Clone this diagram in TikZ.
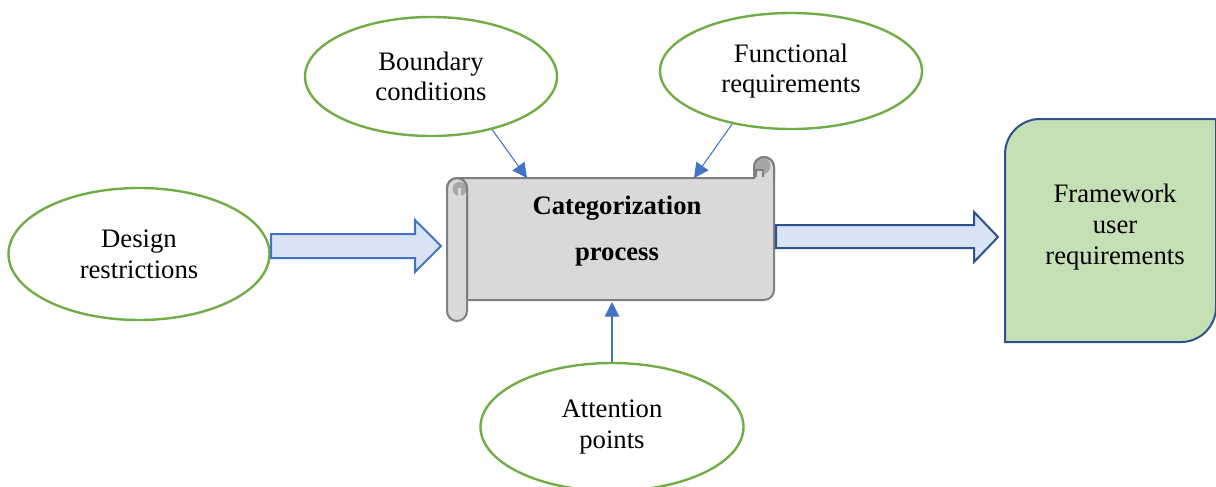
\documentclass[tikz,border=0pt]{standalone}
\usepackage{fontspec}
\setmainfont{Liberation Serif}
\usetikzlibrary{shapes.geometric,arrows.meta}
\definecolor{egreen}{HTML}{70AD47}
\definecolor{ablue}{HTML}{4472C4}
\definecolor{dblue}{HTML}{2F528F}
\definecolor{lblue}{HTML}{DAE3F3}
\definecolor{bgreen}{HTML}{C5E0B4}
\definecolor{sgray}{HTML}{D9D9D9}
\definecolor{sdark}{HTML}{A6A6A6}
\definecolor{sline}{HTML}{7F7F7F}
\tikzset{
  oval/.style={ellipse, draw=egreen, line width=1.8pt, fill=white, align=center,
    font=\fontsize{20}{23}\selectfont, inner sep=0pt},
  inarr/.style={draw=ablue, line width=0.8pt, -{Triangle[length=11pt,width=11pt]}},
  blockarr/.style={fill=lblue, line width=1.5pt, line join=miter},
  scrollpart/.style={draw=sline, line width=1.5pt, fill=sgray},
  lbl/.style={align=center, inner sep=0pt}
}
\begin{document}
\begin{tikzpicture}[x=0.75pt,y=-0.75pt]
\useasboundingbox (0,0) rectangle (1216,486);

% ellipses
\node[oval, minimum width=195.75pt, minimum height=99pt] (des) at (139,254) {Design\\restrictions};
\node[oval, minimum width=189pt, minimum height=89.25pt] (bnd) at (431,76.5) {Boundary\\conditions};
\node[oval, minimum width=196.5pt, minimum height=87pt] (fun) at (791,71) {Functional\\requirements};
\node[oval, minimum width=197.25pt, minimum height=96pt] (att) at (612,427) {Attention\\points};

% scroll body
\path[scrollpart] (457,178) -- (754,178) -- (754,167)
  .. controls (754,161.5) and (758.5,157) .. (764,157)
  .. controls (769.5,157) and (774,161.5) .. (774,167)
  -- (774,290) .. controls (774,295.5) and (769.5,300) .. (764,300)
  -- (457,300) -- cycle;
% top right curl
\fill[sdark] (762,157.5) .. controls (766.7,157.5) and (770.5,161.3) .. (770.5,166)
  .. controls (770.5,170.7) and (766.7,174.5) .. (762,174.5)
  .. controls (757.3,174.5) and (753.5,170.7) .. (753.5,166)
  .. controls (753.5,161.3) and (757.3,157.5) .. (762,157.5) -- cycle;
\fill[sgray] (756,170) rectangle (763,177);
\draw[sline, line width=1.2pt] (756,177) -- (756,170) -- (763,170) -- (763,177);
\draw[sline, line width=1.5pt] (754,178) -- (754,167)
  .. controls (754,161.5) and (758.5,157) .. (764,157)
  .. controls (769.5,157) and (774,161.5) .. (774,167) -- (774,178);
% left roll
\path[scrollpart] (447,188) .. controls (447,182.5) and (451.5,178) .. (457,178)
  .. controls (462.5,178) and (467,182.5) .. (467,188) -- (467,311)
  .. controls (467,316.5) and (462.5,321) .. (457,321)
  .. controls (451.5,321) and (447,316.5) .. (447,311) -- cycle;
\fill[sdark] (459.5,182) .. controls (463.4,182) and (466.5,185.1) .. (466.5,189)
  .. controls (466.5,192.9) and (463.4,196) .. (459.5,196)
  .. controls (455.6,196) and (452.5,192.9) .. (452.5,189)
  .. controls (452.5,185.1) and (455.6,182) .. (459.5,182) -- cycle;
\fill[sgray] (457.5,188) rectangle (461,197);
\draw[sline, line width=1.5pt] (447,188) .. controls (447,182.5) and (451.5,178) .. (457,178)
  .. controls (462.5,178) and (467,182.5) .. (467,188) -- (467,300);
\node[minimum width=245.25pt, minimum height=91.5pt, inner sep=0pt] (scroll) at (610.5,239) {};
\node[lbl, font=\fontsize{20}{34.5}\selectfont\bfseries] (cat) at (617,231) {Categorization\\process};

% green box
\path[draw=dblue, fill=bgreen, line width=1.5pt] (1005,342) -- (1005,154)
  .. controls (1005,134.7) and (1020.7,119) .. (1040,119) -- (1216,119) -- (1216,307)
  .. controls (1216,326.3) and (1200.3,342) .. (1181,342) -- cycle;
\node[minimum width=158pt, minimum height=167pt, inner sep=0pt] (fw) at (1110,230.5) {};
\node[lbl, font=\fontsize{20}{23.5}\selectfont] (fwt) at (1115,227) {Framework\\user\\requirements};

% block arrows
\path[blockarr, draw=ablue] (271,234) -- (415,234) -- (415,220) -- (441,246)
  -- (415,272) -- (415,258) -- (271,258) -- cycle;
\path[blockarr, draw=dblue] (776,225) -- (974,225) -- (974,212) -- (998,237)
  -- (974,262) -- (974,248) -- (776,248) -- cycle;

% thin arrows
\coordinate (t1) at (527,178);
\coordinate (t2) at (694,178);
\coordinate (t3) at (612,302);
\draw[inarr] (bnd.-41.5) -- (t1);
\draw[inarr] (fun.-138) -- (t2);
\draw[inarr] (att.north) -- (t3);
\end{tikzpicture}
\end{document}
